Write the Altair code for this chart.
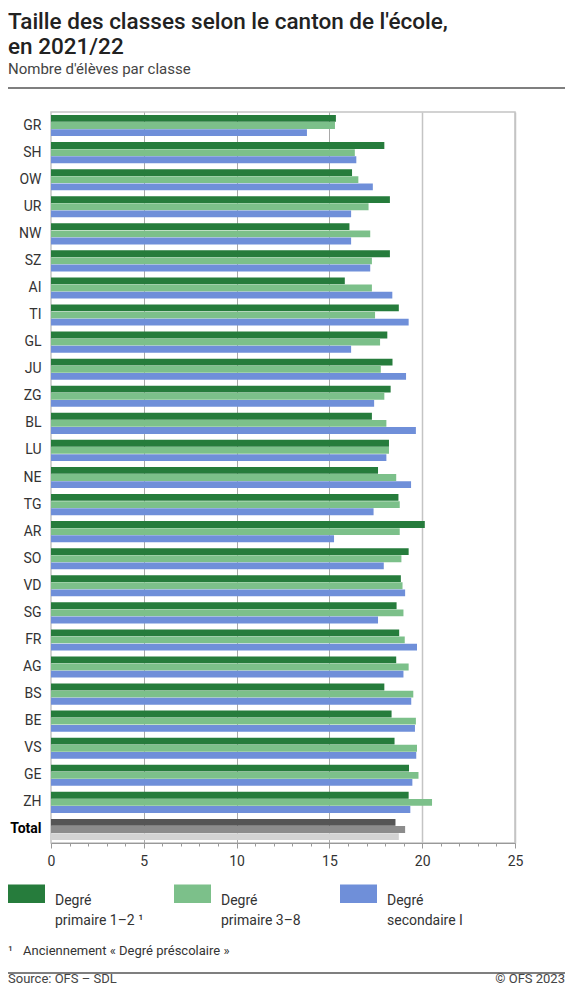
import altair as alt
import pandas as pd

cantons = ["GR", "SH", "OW", "UR", "NW", "SZ", "AI", "TI", "GL", "JU", "ZG", "BL", "LU",
           "NE", "TG", "AR", "SO", "VD", "SG", "FR", "AG", "BS", "BE", "VS", "GE", "ZH", "Total"]
prim12 = [15.35, 17.96, 16.22, 18.26, 16.08, 18.26, 15.83, 18.74, 18.12, 18.40, 18.30, 17.29, 18.21,
          17.62, 18.72, 20.14, 19.27, 18.85, 18.62, 18.76, 18.60, 17.96, 18.35, 18.51, 19.29, 19.27, 18.56]
prim38 = [15.30, 16.37, 16.56, 17.11, 17.20, 17.29, 17.29, 17.46, 17.73, 17.77, 17.96, 18.07, 18.21,
          18.60, 18.79, 18.79, 18.88, 18.94, 18.99, 19.06, 19.27, 19.52, 19.66, 19.72, 19.80, 20.53, 19.08]
sec1 = [13.79, 16.45, 17.34, 16.17, 16.17, 17.20, 18.39, 19.27, 16.17, 19.13, 17.41, 19.66, 18.07,
        19.40, 17.38, 15.25, 17.93, 19.08, 17.62, 19.72, 18.99, 19.41, 19.61, 19.68, 19.47, 19.36, 18.74]

series = ["Degré primaire 1–2 ¹", "Degré primaire 3–8", "Degré secondaire I"]
total_keys = ["Total 1", "Total 2", "Total 3"]
colors = ["#267c3c", "#7cc08a", "#6f8fd9", "#555555", "#8c8c8c", "#d3d3d3"]

title_text = "Taille des classes selon le canton de l'école,\nen 2021/22"
subtitle_text = "Nombre d'élèves par classe"
footnote_mark = "¹"
footnote_text = "Anciennement « Degré préscolaire »"
source_text = "Source: OFS – SDL"
copyright_text = "© OFS 2023"

rows = []
for i, c in enumerate(cantons):
    for j, vals in enumerate([prim12, prim38, sec1]):
        key = total_keys[j] if c == "Total" else series[j]
        rows.append({"canton": c, "series": series[j], "key": key, "value": vals[i]})
df = pd.DataFrame(rows)

FONT = "Roboto"

bars = alt.Chart(df).mark_bar().encode(
    y=alt.Y("canton:N", sort=cantons, title=None,
            scale=alt.Scale(paddingInner=0.22, paddingOuter=0.11),
            axis=alt.Axis(ticks=False, domain=False, labelPadding=10, labelFont=FONT,
                          labelFontSize=14,
                          labelColor={"condition": {"test": "datum.value == 'Total'", "value": "#000000"}, "value": "#333333"},
                          labelFontWeight={"condition": {"test": "datum.value == 'Total'", "value": "bold"}, "value": "normal"})),
    yOffset=alt.YOffset("series:N", sort=series, scale=alt.Scale(paddingInner=0.04)),
    x=alt.X("value:Q", title=None, scale=alt.Scale(domain=[0, 25], nice=False),
            axis=alt.Axis(values=list(range(26)), labelOverlap=False, labelFlush=False,
                          labelExpr="datum.value % 5 == 0 ? datum.label : ''",
                          labelFont=FONT, labelFontSize=14, labelColor="#333333", labelPadding=6,
                          tickColor="#999999", tickWidth=1,
                          tickSize={"condition": {"test": "datum.value % 5 == 0", "value": 5}, "value": 3},
                          domainColor="#999999", domainWidth=1,
                          grid=True,
                          gridOpacity={"condition": {"test": "datum.value % 5 == 0 && datum.value > 0", "value": 1}, "value": 0},
                          gridColor={"condition": {"test": "datum.value < 20", "value": "#a8a8a8"}, "value": "#c4c4c4"},
                          gridWidth={"condition": {"test": "datum.value < 20", "value": 1}, "value": 1.5})),
    color=alt.Color("key:N", scale=alt.Scale(domain=series + total_keys, range=colors),
                    legend=alt.Legend(title=None, orient="none", legendX=-43, legendY=763,
                                      direction="horizontal", columns=3, values=series,
                                      symbolType="M-1,-0.5H1V0.5H-1Z", symbolSize=1369,
                                      symbolStrokeWidth=0, symbolOpacity=1,
                                      labelExpr="['Degré', replace(datum.label, 'Degré ', '')]",
                                      labelFont=FONT, labelFontSize=14, labelColor="#333333",
                                      labelOffset=10, labelLimit=200, labelBaseline="top",
                                      columnPadding=30, gridAlign="all", padding=0)),
)

one = pd.DataFrame({"k": [0]})

def label(text, x, y, size, color="#333333", weight="normal", align="left", line_height=None):
    kw = dict(align=align, baseline="alphabetic", font=FONT, fontSize=size, color=color, fontWeight=weight)
    if line_height:
        kw["lineBreak"] = "\n"
        kw["lineHeight"] = line_height
    return alt.Chart(one).mark_text(**kw).encode(x=alt.value(x), y=alt.value(y), text=alt.value(text))

def hrule(y, color="#555555", width=1.5):
    return alt.Chart(one).mark_rule(color=color, strokeWidth=width).encode(
        x=alt.value(-43), x2=alt.value(514), y=alt.value(y))

title = label(title_text, -43, -83, 22.5, color="#222222", weight=500, line_height=25)
subtitle = label(subtitle_text, -43, -38, 15, color="#444444")
top_rule = hrule(-24)
fn_mark = label(footnote_mark, -43, 843, 13)
fn_text = label(footnote_text, -28, 843, 13)
bottom_rule = hrule(861)
source = label(source_text, -43, 871, 13, color="#444444")
copyright_ = label(copyright_text, 514, 871, 13, color="#444444", align="right")

chart = alt.layer(
    bars, title, subtitle, top_rule, fn_mark, fn_text, bottom_rule, source, copyright_
).properties(
    width=464, height=731,
    padding={"left": 43, "top": 104, "right": 50, "bottom": 145},
    autosize=alt.AutoSizeParams(type="none"),
).configure(
    view=alt.ViewConfig(stroke="#c4c4c4", strokeWidth=1.5),
    style={"guide-label": {"lineHeight": 20}},
)

chart.save("out.html", embed_options={"renderer": "svg", "actions": False})
